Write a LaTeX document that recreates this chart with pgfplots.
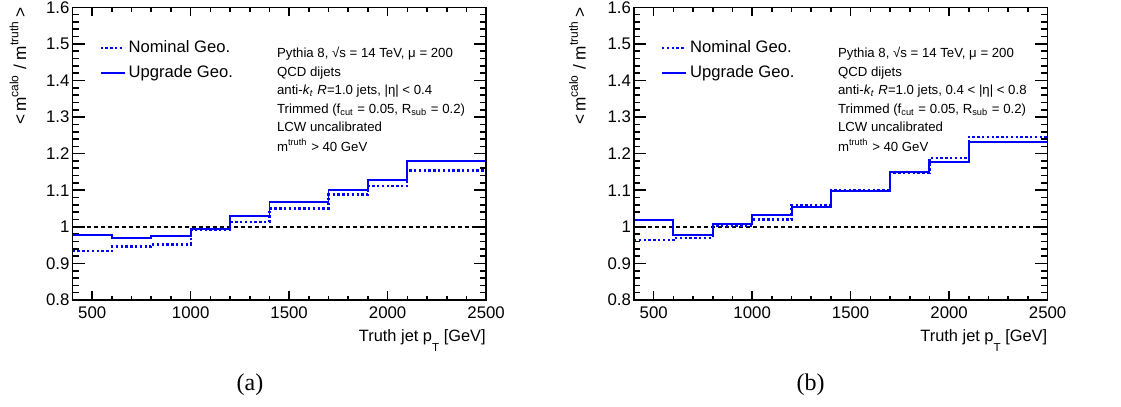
\documentclass[border=0pt]{standalone}
\usepackage{fontspec}
\setmainfont{Liberation Sans}
\newfontfamily\capfont{Liberation Serif}
\usepackage{pgfplots}
\usepackage{pgfplotstable}
\pgfplotsset{compat=1.18}

\pgfplotstableread{
x nom upg
400 0.933 0.978
600 0.946 0.970
800 0.952 0.975
1000 0.992 0.993
1200 1.013 1.029
1400 1.050 1.067
1700 1.088 1.101
1900 1.111 1.128
2100 1.154 1.179
2500 1.154 1.179
}\dataA

\pgfplotstableread{
x nom upg
400 0.964 1.019
600 0.970 0.977
800 1.002 1.007
1000 1.020 1.033
1200 1.060 1.055
1400 1.099 1.099
1700 1.147 1.149
1900 1.189 1.178
2100 1.246 1.231
2500 1.246 1.231
}\dataB

\definecolor{rootblue}{RGB}{0,0,255}
\newcommand{\legfont}{\fontsize{8.3}{10}\selectfont}

\pgfplotsset{
  rootbase/.style={
    scale only axis, anchor=south west,
    width=206.8pt, height=146.35pt,
    xmin=400, xmax=2500, ymin=0.8, ymax=1.6,
    axis line style={line width=0.8pt, black},
    every tick/.style={line width=0.8pt, black},
    tick align=inside, tick pos=both,
    /pgf/number format/assume math mode=true,
    ticklabel style={font=\fontsize{8.4}{10}\selectfont},
  },
  rooty/.style={
    rootbase,
    xtick=\empty,
    ytick={0.8,0.9,1,1.1,1.2,1.3,1.4,1.5,1.6},
    minor y tick num=4,
    major tick length=6.2pt, minor tick length=3.1pt,
    yticklabel style={anchor=east, inner xsep=0pt, xshift=-1.3pt},
    legend style={draw=none, fill=none, at={(rel axis cs:0.064,0.888)}, anchor=north west,
      inner sep=0pt, font=\legfont, row sep=5.2pt,
      nodes={inner sep=0pt, font=\legfont}, column sep=1.5pt},
    legend cell align=left,
    legend image code/.code={\draw[##1] (0pt,0pt) -- (12pt,0pt);},
  },
  rootx/.style={
    rootbase,
    ytick=\empty,
    xtick={500,1000,1500,2000,2500},
    minor x tick num=4,
    major tick length=4.4pt, minor tick length=2.2pt,
    xticklabel style={/pgf/number format/1000 sep={}},
  },
  nomstyle/.style={draw=rootblue, line width=1.15pt, dash pattern=on 1.2pt off 1.2pt, const plot mark left},
  upgstyle/.style={draw=rootblue, line width=0.95pt, const plot mark left},
  refline/.style={black, line width=0.7pt, dash pattern=on 2pt off 1.5pt, forget plot},
}

\newcommand{\annfont}{\fontsize{6.6}{7}\selectfont}
\newcommand{\ylab}{<\,m\textsuperscript{calo} / m\textsuperscript{truth}\,>}
\newcommand{\xlab}{Truth jet p\raisebox{-5pt}{\fontsize{5.8}{6}\selectfont T} [GeV]}

\begin{document}
\begin{tikzpicture}
\path[use as bounding box] (0,0) rectangle (560.5pt,203.5pt);

% ---------- panel (a) ----------
\begin{axis}[rooty, name=a1, at={(36.25pt,53.5pt)}]
  \addplot[refline] coordinates {(400,1) (2500,1)};
  \addplot[nomstyle] table[x=x, y=nom] {\dataA};
  \addlegendentry{Nominal Geo.}
  \addplot[upgstyle] table[x=x, y=upg] {\dataA};
  \addlegendentry{Upgrade Geo.}
\end{axis}
\begin{axis}[rootx, at={(36.25pt,53.5pt)}]
\end{axis}
\node[rotate=90, anchor=south east, inner sep=0pt, font=\fontsize{8.6}{10}\selectfont]
  at ([xshift=-22.9pt]a1.north west) {\ylab};
\node[anchor=base east, inner sep=0pt, font=\fontsize{8.2}{10}\selectfont]
  at ([yshift=-21pt]a1.south east) {\xlab};
\begin{scope}[shift={(a1.north west)}, every node/.style={anchor=base west, inner sep=0pt, font=\annfont}]
  \node at (102.1pt,-25pt) {Pythia 8, √s = 14 TeV, μ = 200};
  \node at (102.1pt,-34.35pt) {QCD dijets};
  \node at (102.1pt,-43.5pt) {anti-\textit{k}\textsubscript{\textit{t}} \textit{R}=1.0 jets, |η| < 0.4};
  \node at (102.1pt,-53pt) {Trimmed (f\textsubscript{cut} = 0.05, R\textsubscript{sub} = 0.2)};
  \node at (102.1pt,-62.2pt) {LCW uncalibrated};
  \node at (102.1pt,-72.2pt) {m\textsuperscript{truth} > 40 GeV};
\end{scope}
\node[font=\capfont\fontsize{12}{14}\selectfont] at (125pt,11pt) {(a)};

% ---------- panel (b) ----------
\begin{axis}[rooty, name=a2, at={(317pt,53.5pt)}]
  \addplot[refline] coordinates {(400,1) (2500,1)};
  \addplot[nomstyle] table[x=x, y=nom] {\dataB};
  \addlegendentry{Nominal Geo.}
  \addplot[upgstyle] table[x=x, y=upg] {\dataB};
  \addlegendentry{Upgrade Geo.}
\end{axis}
\begin{axis}[rootx, at={(317pt,53.5pt)}]
\end{axis}
\node[rotate=90, anchor=south east, inner sep=0pt, font=\fontsize{8.6}{10}\selectfont]
  at ([xshift=-23.9pt]a2.north west) {\ylab};
\node[anchor=base east, inner sep=0pt, font=\fontsize{8.2}{10}\selectfont]
  at ([yshift=-21pt]a2.south east) {\xlab};
\begin{scope}[shift={(a2.north west)}, every node/.style={anchor=base west, inner sep=0pt, font=\annfont}]
  \node at (101.85pt,-25pt) {Pythia 8, √s = 14 TeV, μ = 200};
  \node at (101.85pt,-34.35pt) {QCD dijets};
  \node at (101.85pt,-43.5pt) {anti-\textit{k}\textsubscript{\textit{t}} \textit{R}=1.0 jets, 0.4 < |η| < 0.8};
  \node at (101.85pt,-53pt) {Trimmed (f\textsubscript{cut} = 0.05, R\textsubscript{sub} = 0.2)};
  \node at (101.85pt,-62.2pt) {LCW uncalibrated};
  \node at (101.85pt,-72.2pt) {m\textsuperscript{truth} > 40 GeV};
\end{scope}
\node[font=\capfont\fontsize{12}{14}\selectfont] at (405.35pt,11pt) {(b)};
\end{tikzpicture}
\end{document}
